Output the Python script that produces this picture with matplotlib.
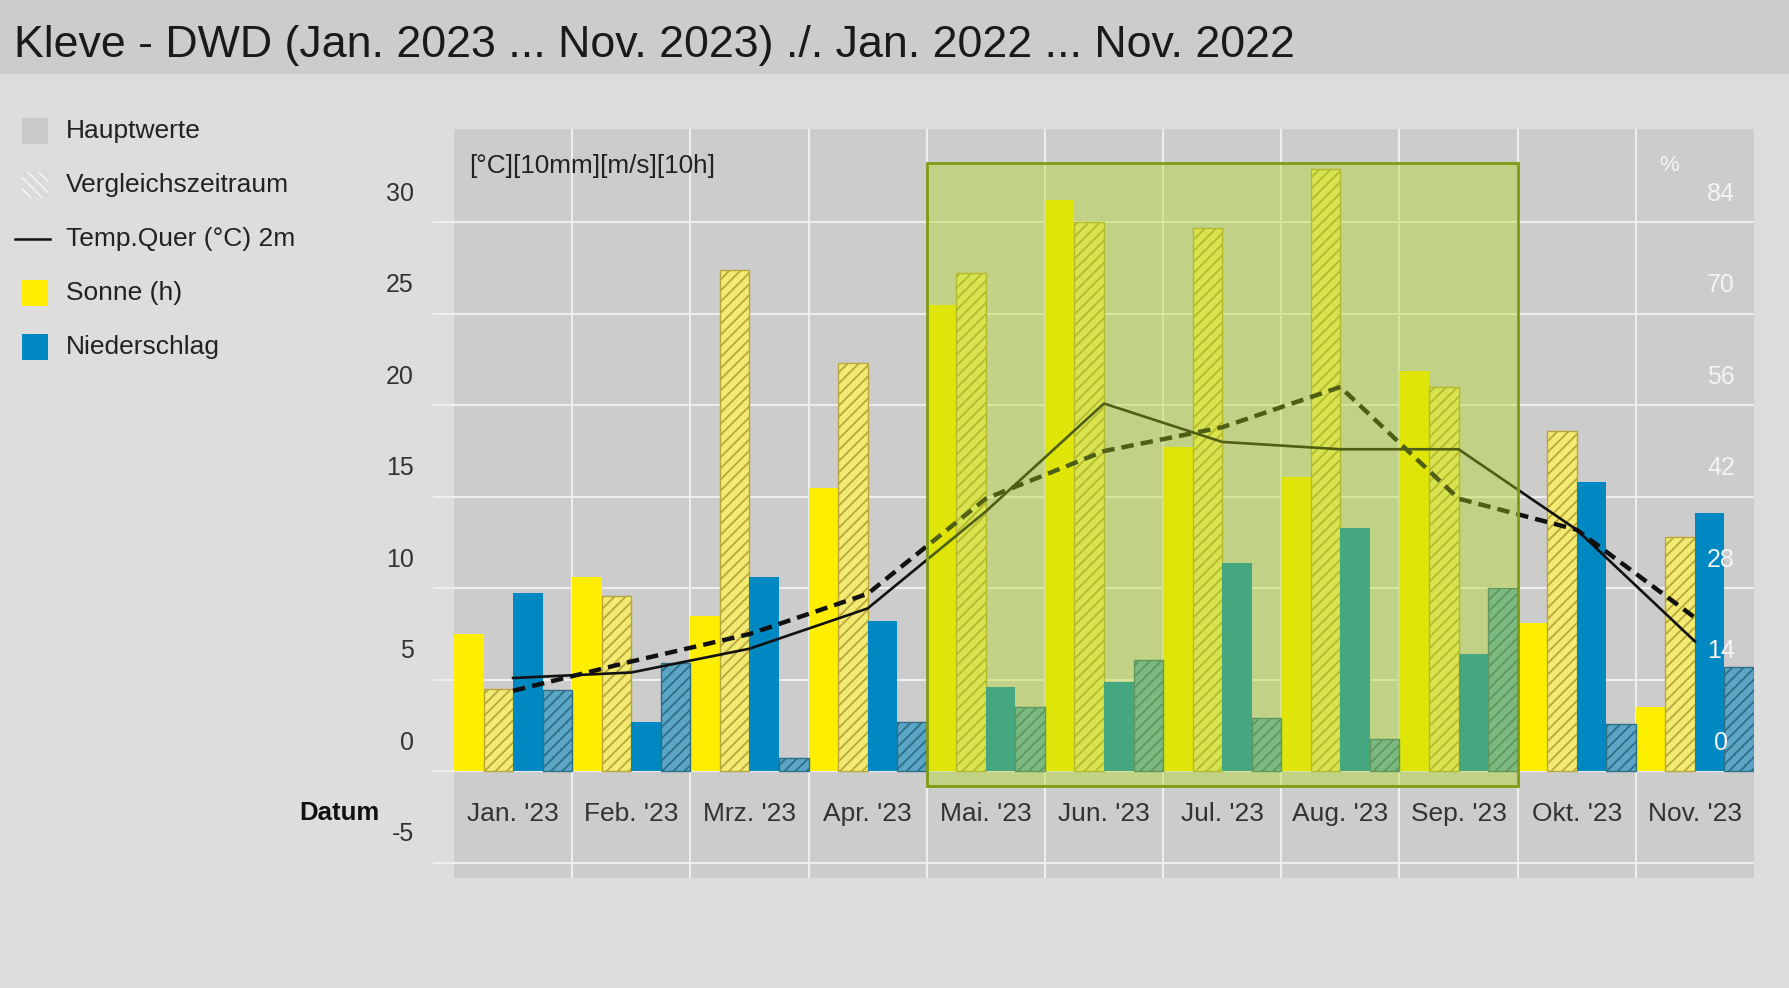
import matplotlib as mpl
import matplotlib.pyplot as plt
from matplotlib.patches import Rectangle
from matplotlib.lines import Line2D

mpl.use('Agg')

monate = ["Jan. '23", "Feb. '23", "Mrz. '23", "Apr. '23", "Mai. '23", "Jun. '23",
          "Jul. '23", "Aug. '23", "Sep. '23", "Okt. '23", "Nov. '23"]
sonne_2023 = [7.5, 10.6, 8.5, 15.5, 25.5, 31.2, 17.7, 16.1, 21.9, 8.1, 3.5]
sonne_2022 = [4.5, 9.6, 27.4, 22.3, 27.25, 30.0, 29.7, 32.9, 21.0, 18.6, 12.8]
regen_2023 = [9.75, 2.7, 10.6, 8.2, 4.6, 4.9, 11.4, 13.3, 6.4, 15.8, 14.1]
regen_2022 = [4.45, 5.9, 0.75, 2.7, 3.5, 6.1, 2.9, 1.75, 10.0, 2.6, 5.7]
temp_2023 = [5.1, 5.4, 6.7, 8.9, 14.2, 20.1, 18.0, 17.6, 17.6, 13.2, 7.1]
temp_2022 = [4.4, 6.0, 7.5, 9.7, 14.9, 17.5, 18.8, 21.0, 14.9, 13.2, 8.4]
links_ticks = [-5, 0, 5, 10, 15, 20, 25, 30]
rechts_ticks = [0, 14, 28, 42, 56, 70, 84]

W, H = 1789, 988
plt.rcParams['font.family'] = ['Liberation Sans', 'DejaVu Sans']
plt.rcParams['hatch.linewidth'] = 1.3

fig = plt.figure(figsize=(W / 100, H / 100), dpi=100, facecolor='#dddddd')


def px(x, y):
    return x / W, 1 - y / H


# Titelband
fig.add_artist(Rectangle(px(0, 74), 1, 74 / H, transform=fig.transFigure,
                         facecolor='#cccccc', edgecolor='none'))
fig.text(*px(14, 45), "Kleve - DWD (Jan. 2023 ... Nov. 2023) ./. Jan. 2022 ... Nov. 2022",
         fontsize=32.2, color='#1a1a1a', va='center', ha='left')

ax = fig.add_axes([454 / W, 1 - 878 / H, 1300 / W, (878 - 129) / H])
ax.set_facecolor('#cccccc')
for s in ax.spines.values():
    s.set_visible(False)
ax.set_xlim(0, 11)
ax.set_ylim(-5.83, 35.1)
ax.set_axisbelow(True)
ax.set_yticks(links_ticks)
ax.set_yticklabels([])
ax.set_xticks(range(1, 11))
ax.set_xticklabels([])
ax.grid(True, color='#eeeeee', linewidth=1.5)
ax.tick_params(axis='y', length=15, width=1.5, color='#eeeeee')
ax.tick_params(axis='x', length=0)

b = 0.25
x = range(11)
ax.bar([i + 0.125 for i in x], sonne_2023, width=b, color='#ffee00', zorder=2)
ax.bar([i + 0.375 for i in x], sonne_2022, width=b, color='#f2ea72',
       edgecolor='#b8a83c', hatch='///', linewidth=1, zorder=2)
ax.bar([i + 0.625 for i in x], regen_2023, width=b, color='#0088c2', zorder=2)
ax.bar([i + 0.875 for i in x], regen_2022, width=b, color='#5aa6c4',
       edgecolor='#2f6e86', hatch='///', linewidth=1, zorder=2)

mitte = [i + 0.5 for i in x]
ax.plot(mitte, temp_2023, color='#111111', linewidth=1.9, zorder=3)
ax.plot(mitte, temp_2022, color='#111111', linewidth=3.2,
        linestyle=(0, (2.8, 1.6)), zorder=3)

# Markierter Zeitraum
ax.add_patch(Rectangle((4, -0.8), 5, 34.06, facecolor='#b0d919', alpha=0.39,
                       edgecolor='none', zorder=5))
ax.add_patch(Rectangle((4, -0.8), 5, 34.06, facecolor='none',
                       edgecolor='#7e9c12', linewidth=2, zorder=6))

# Achsenbeschriftungen
for v in links_ticks:
    ax.text(-0.031, v + 1.56, str(v), transform=ax.get_yaxis_transform(),
            ha='right', va='center', fontsize=18, color='#333333')
for v, r in zip(links_ticks[1:], rechts_ticks):
    ax.text(0.9747, v + 1.56, str(r), transform=ax.get_yaxis_transform(),
            ha='center', va='center', fontsize=18, color='#f4f4f4')
ax.text(0.935, 0.951, '%', transform=ax.transAxes, ha='center', va='center',
        fontsize=16, color='#f4f4f4')
ax.text(0.012, 0.951, '[°C][10mm][m/s][10h]', transform=ax.transAxes,
        ha='left', va='center', fontsize=18.8, color='#222222')
for i, m in enumerate(monate):
    ax.text(i + 0.5, -2.31, m, ha='center', va='center', fontsize=19,
            color='#333333')
fig.text(*px(339, 813), 'Datum', fontsize=18.5, fontweight='bold',
         color='#111111', ha='center', va='center')

# Legende
leg_y = [131, 185, 239, 293, 347]
leg_txt = ['Hauptwerte', 'Vergleichszeitraum', 'Temp.Quer (°C) 2m',
           'Sonne (h)', 'Niederschlag']
fig.add_artist(Rectangle(px(22, leg_y[0] + 13), 26 / W, 26 / H,
                         transform=fig.transFigure, facecolor='#c9c9c9',
                         edgecolor='none'))
fig.add_artist(Rectangle(px(22, leg_y[1] + 13), 26 / W, 26 / H,
                         transform=fig.transFigure, facecolor='#dadada',
                         edgecolor='#f2f2f2', hatch='\\\\\\', linewidth=0))
fig.add_artist(Line2D([15 / W, 50 / W], [1 - leg_y[2] / H] * 2,
                      transform=fig.transFigure, color='#111111', linewidth=1.8))
fig.add_artist(Rectangle(px(22, leg_y[3] + 13), 26 / W, 26 / H,
                         transform=fig.transFigure, facecolor='#ffee00',
                         edgecolor='none'))
fig.add_artist(Rectangle(px(22, leg_y[4] + 13), 26 / W, 26 / H,
                         transform=fig.transFigure, facecolor='#0088c2',
                         edgecolor='none'))
for y, t in zip(leg_y, leg_txt):
    fig.text(*px(66, y), t, fontsize=19, color='#222222', ha='left', va='center')

plt.savefig('out.png', dpi=100, facecolor=fig.get_facecolor())
